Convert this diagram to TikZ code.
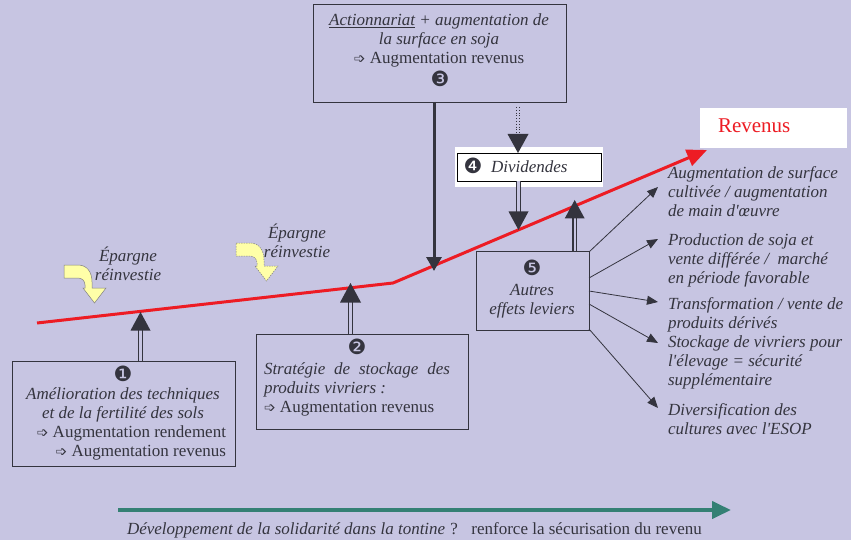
\documentclass[tikz,border=0pt]{standalone}
\usepackage{fontspec}
\setmainfont{Liberation Serif}
\newfontfamily\symf{DejaVu Sans}
\usetikzlibrary{arrows.meta,calc}
\definecolor{bgc}{RGB}{199,197,226}
\definecolor{txc}{RGB}{52,52,62}
\definecolor{redl}{RGB}{237,28,36}
\definecolor{tealc}{RGB}{52,128,116}
\definecolor{yel}{RGB}{255,255,168}
\newcommand{\hk}{{\symf\fontsize{14}{14}\selectfont ➩}}
\newcommand{\ap}{\textquotesingle}
\tikzset{
  every node/.style={inner sep=0pt, outer sep=0pt, text=txc, font=\fontsize{17}{19}\selectfont},
  box/.style={draw=txc, line width=0.8pt, anchor=north west},
  numb/.style={font=\symf\fontsize{21}{21}\selectfont},
  dbl/.style={draw=txc, line width=1.1pt, double=bgc, double distance=2.4pt},
  thinarr/.style={draw=txc, line width=0.8pt, -{Triangle[length=11pt,width=9pt]}},
  yarrow/.style={fill=yel, draw=gray, line width=0.5pt},
  txt/.style={align=left, anchor=base west}
}
\begin{document}
\begin{tikzpicture}[x=1pt,y=-1pt]
\useasboundingbox (0,0) rectangle (851,540);
\fill[bgc] (0,0) rectangle (851,540);

% boxes
\node[box, minimum width=223, minimum height=105] (b1) at (12,361) {};
\node[box, minimum width=212, minimum height=95] (b2) at (256,334) {};
\node[box, minimum width=253, minimum height=98] (b3) at (313,4) {};
\node[box, minimum width=113, minimum height=79] (b5) at (476,251) {};
\node[fill=white, minimum width=148, minimum height=40, anchor=north west] (d4o) at (455,147) {};
\node[box, draw=black, minimum width=144, minimum height=28] (d4) at (457,153) {};
\node[fill=white, minimum width=147, minimum height=40, anchor=north west] (rv) at (700,108) {};

% yellow arrows
\begin{scope}[shift={(64,265)}]
\filldraw[yarrow] (0,0) -- (14,0) .. controls (23,0) and (28,7) .. (28,17) -- (28,23) -- (42,23) -- (30.5,38) -- (19,23) -- (21,23) -- (21,20) .. controls (21,16) and (18,13) .. (14,13) -- (0,13) -- cycle;
\end{scope}
\begin{scope}[shift={(236,243)}]
\filldraw[yarrow, dash pattern=on 1.5pt off 1pt] (0,0) -- (14,0) .. controls (23,0) and (28,7) .. (28,17) -- (28,23) -- (42,23) -- (30.5,38) -- (19,23) -- (21,23) -- (21,20) .. controls (21,16) and (18,13) .. (14,13) -- (0,13) -- cycle;
\end{scope}

% red line
\coordinate (rs) at (37,323);
\coordinate (rk) at (393,283);
\coordinate (rt) at (707,150);
\draw[redl, line width=3pt, -{Triangle[length=20pt,width=17pt]}] (rs) -- (rk) -- (rt);

% tips on red line
\coordinate (r1) at (140.5,312);
\coordinate (r2) at (350.5,283);
\coordinate (r3) at (434,271);
\coordinate (r4) at (518.5,230);
\coordinate (r5) at (574.7,200);
\coordinate (r6) at (518,153);

% double arrows
\draw[dbl] ($(b1.north west)+(128.5,0)$) -- ++(0,-33);
\fill[txc] (r1) -- ++(-10,18.5) -- ++(20,0) -- cycle;
\draw[dbl] ($(b2.north west)+(94.5,0)$) -- ++(0,-33);
\fill[txc] (r2) -- ++(-10.5,19.5) -- ++(21,0) -- cycle;
\draw[dbl] ($(d4.south west)+(61.5,0)$) -- ++(0,32);
\fill[txc] (r4) -- ++(-10,-18.5) -- ++(20,0) -- cycle;
\draw[dbl] ($(b5.north west)+(98.7,0)$) -- ++(0,-33);
\fill[txc] (r5) -- ++(-10,18.5) -- ++(20,0) -- cycle;

% black solid arrow
\draw[txc, line width=3pt, -{Triangle[length=14pt,width=15pt]}] ($(b3.south west)+(121,0)$) -- (r3);

% dotted double arrow
\draw[txc, line width=0.8pt, dotted] ($(b3.south west)+(203.3,5)$) -- ++(0,28);
\draw[txc, line width=0.8pt, dotted] ($(b3.south west)+(206.7,5)$) -- ++(0,28);
\fill[txc] (r6) -- ++(-10.5,-19) -- ++(21,0) -- cycle;

% thin arrows
\coordinate (e1) at (658,187);
\coordinate (e2) at (658,239);
\coordinate (e3) at (658,302);
\coordinate (e4) at (658,343);
\coordinate (e5) at (658,408);
\draw[thinarr] ($(b5.north east)+(0,1)$) -- (e1);
\draw[thinarr] ($(b5.north east)+(0,27)$) -- (e2);
\draw[thinarr] ($(b5.north east)+(0,40)$) -- (e3);
\draw[thinarr] ($(b5.north east)+(0,53)$) -- (e4);
\draw[thinarr] ($(b5.south east)+(0,-1)$) -- (e5);

% numbers
\node[numb] (n1) at (123,374) {❶};
\node[numb] (n2) at (357,347) {❷};
\node[numb] (n3) at (440,79) {❸};
\node[numb] (n4) at (473,166) {❹};
\node[numb] (n5) at (532,268) {❺};

% box texts (base = last line baseline)
\node[align=center, anchor=base] (t1) at (123,456) {\itshape Amélioration des techniques\\ \itshape et de la fertilité des sols\\ \makebox[206pt][r]{\hk\ Augmentation rendement}\\ \makebox[206pt][r]{\hk\ Augmentation revenus}};
\node[txt] (t2) at (264,412) {\makebox[186pt][s]{\itshape Stratégie de stockage des}\\ \itshape produits vivriers :\\ \hk\ Augmentation revenus};
\node[align=center, anchor=base] (t3) at (439,64) {\itshape \underline{Actionnariat} + augmentation de\\ \itshape la surface en soja\\ \hk\ Augmentation revenus};
\node[align=center, anchor=base] (t5) at (532,314) {\itshape Autres\\ \itshape effets leviers};
\node[txt] (t4) at (491,173) {\itshape Dividendes};
\node[txt, text=redl, font=\fontsize{21}{21}\selectfont] (rvt) at (718,133) {Revenus};

% right texts
\node[txt] (x1) at (668,217) {\itshape Augmentation de surface\\ \itshape cultivée / augmentation\\ \itshape de main d\ap œuvre};
\node[txt] (x2) at (668,283) {\itshape Production de soja et\\ \itshape vente différée /\ \ marché\\ \itshape en période favorable};
\node[txt] (x3) at (668,328) {\itshape Transformation / vente de\\ \itshape produits dérivés};
\node[txt] (x4) at (668,385) {\itshape Stockage de vivriers pour\\ \itshape l\ap élevage = sécurité\\ \itshape supplémentaire};
\node[txt] (x5) at (668,434) {\itshape Diversification des\\ \itshape cultures avec l\ap ESOP};

% epargne
\node[align=center, anchor=base] (ep1) at (128,280) {\itshape Épargne\\ \itshape réinvestie};
\node[align=center, anchor=base] (ep2) at (297,257) {\itshape Épargne\\ \itshape réinvestie};

% bottom
\coordinate (bs) at (118,510);
\coordinate (bt) at (731,510);
\draw[tealc, line width=4pt, -{Triangle[length=19pt,width=17pt]}] (bs) -- (bt);
\node[txt] (bot) at (127,534) {\textit{Développement de la solidarité dans la tontine}\hspace{0.3em}?\hspace{0.8em}renforce la sécurisation du revenu};
\end{tikzpicture}
\end{document}
